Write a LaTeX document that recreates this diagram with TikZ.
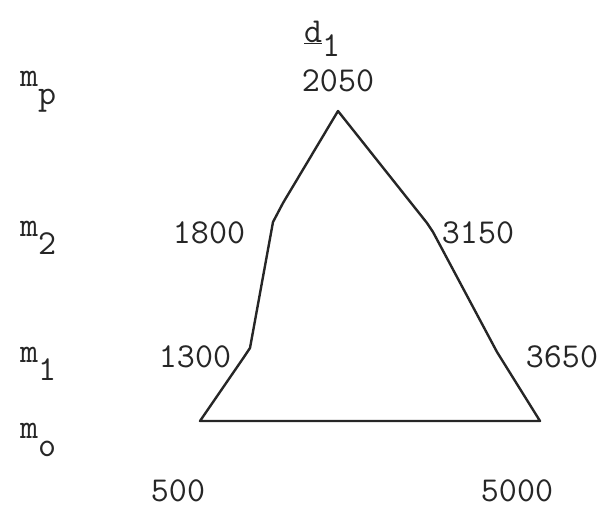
\documentclass[tikz,border=0pt]{standalone}
\usepackage{fontspec}
\begin{document}
\begin{tikzpicture}[x=1pt,y=-1pt,
  lbl/.style={font=\ttfamily\fontsize{35}{40}\selectfont, inner sep=0pt, text=black!85},
  edge/.style={line width=2.4pt, black!85, line join=round, line cap=round}]
\useasboundingbox (0,0) rectangle (600,509);
% vertices
\coordinate (top) at (338,111);
\coordinate (l1) at (283,203);
\coordinate (l2) at (273,222);
\coordinate (l3) at (250,348);
\coordinate (l4) at (244,357);
\coordinate (bl) at (200,421);
\coordinate (br) at (540,421);
\coordinate (r3) at (497,352);
\coordinate (r2) at (433,232);
\coordinate (r1) at (427,223);
\draw[edge] (top) -- (l1) -- (l2) -- (l3) -- (l4) -- (bl) -- (br) -- (r3) -- (r2) -- (r1) -- cycle;
% title
\node[lbl, anchor=base west] (d) at (304,42) {\underline{d}\raisebox{-14pt}{1}};
% row labels
\node[lbl, anchor=base west] (mp) at (20,86) {m\raisebox{-18pt}{p}};
\node[lbl, anchor=base west] (m2) at (20,236) {m\raisebox{-18pt}{2}};
\node[lbl, anchor=base west] (m1) at (20,362) {m\raisebox{-18pt}{1}};
\node[lbl, anchor=base west] (mo) at (20,438) {m\raisebox{-18pt}{o}};
% values
\node[lbl] (v2050) at (338,81) {2050};
\node[lbl] (v1800) at (209,233) {1800};
\node[lbl] (v3150) at (478,233) {3150};
\node[lbl] (v1300) at (195,357) {1300};
\node[lbl] (v3650) at (562,357) {3650};
\node[lbl] (v500) at (178,491) {500};
\node[lbl] (v5000) at (517,491) {5000};
\end{tikzpicture}
\end{document}
